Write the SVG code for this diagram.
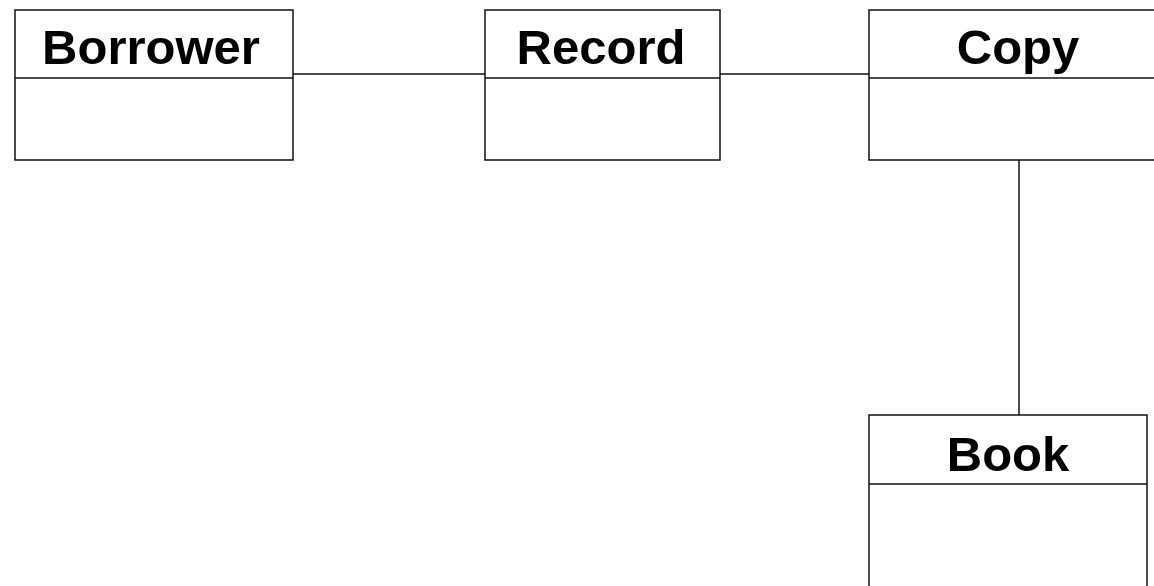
<svg xmlns="http://www.w3.org/2000/svg" width="1154" height="586" viewBox="0 0 1154 586">
<style>
.box{fill:#fff;stroke:#111;stroke-width:1.5}
.div{stroke:#111;stroke-width:1.5}
.conn{stroke:#111;stroke-width:1.5;fill:none}
.lbl{font-family:"Liberation Sans",Arial,sans-serif;font-weight:bold;font-size:49px;fill:#000;text-anchor:middle}
</style>
<rect width="1154" height="586" fill="#fff"/>
<g id="connectors">
<line class="conn" x1="293" y1="74" x2="485" y2="74"/>
<line class="conn" x1="720" y1="74" x2="869" y2="74"/>
<line class="conn" x1="1019" y1="160" x2="1019" y2="415"/>
</g>
<g id="borrower">
<rect class="box" x="15" y="10" width="278" height="150"/>
<line class="div" x1="15" y1="78" x2="293" y2="78"/>
<text class="lbl" x="151" y="64">Borrower</text>
</g>
<g id="record">
<rect class="box" x="485" y="10" width="235" height="150"/>
<line class="div" x1="485" y1="78" x2="720" y2="78"/>
<text class="lbl" x="601" y="64">Record</text>
</g>
<g id="copy">
<rect class="box" x="869" y="10" width="298" height="150"/>
<line class="div" x1="869" y1="78" x2="1167" y2="78"/>
<text class="lbl" x="1018" y="64">Copy</text>
</g>
<g id="book">
<rect class="box" x="869" y="415" width="278" height="185"/>
<line class="div" x1="869" y1="484" x2="1147" y2="484"/>
<text class="lbl" x="1008" y="471">Book</text>
</g>
</svg>
